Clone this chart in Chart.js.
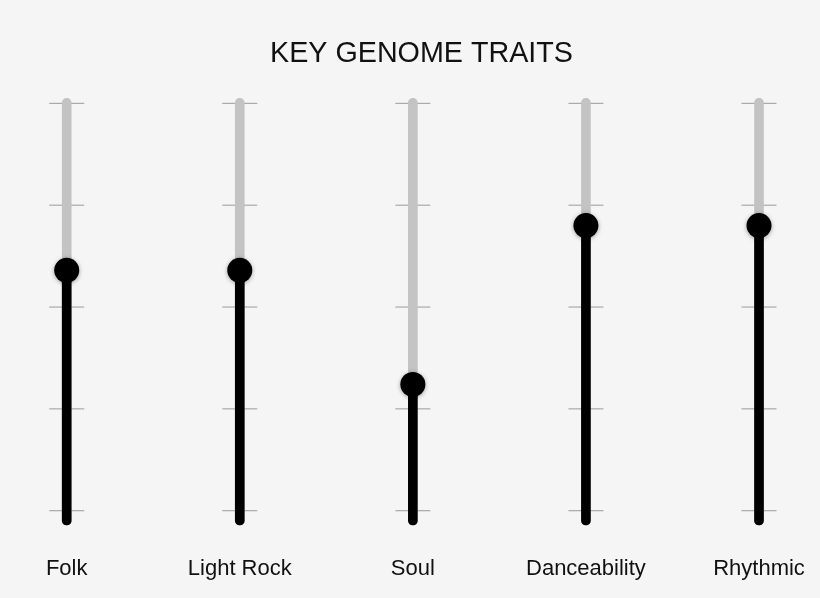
<!DOCTYPE html>
<html>
<head>
<meta charset="utf-8">
<title>Key Genome Traits</title>
<script src="https://cdn.jsdelivr.net/npm/chart.js@4.4.1/dist/chart.umd.min.js"></script>
<style>
  html, body { margin: 0; padding: 0; background: #f5f5f5; }
  #wrap { width: 820px; height: 598px; }
</style>
</head>
<body>
<div id="wrap"><canvas id="genomeChart"></canvas></div>
<script>
// chart data
const categories = ["Folk", "Light Rock", "Soul", "Danceability", "Rhythmic"];
const values = [5.9, 5.9, 3.1, 7.0, 7.0];
const tickLevels = [0, 2.5, 5, 7.5, 10];
const axisLabels = [0, 10];

// slider track runs a little past 0 and 10
const trackBottom = -0.35;
const trackTop = 10.12;

const font = "'Liberation Sans', Arial, sans-serif";

// soft shadow under the knobs
const knobShadow = {
  id: "knobShadow",
  beforeDatasetDraw(chart, args) {
    if (args.index !== 0) return;
    const ctx = chart.ctx;
    ctx.save();
    ctx.shadowColor = "rgba(0,0,0,0.35)";
    ctx.shadowBlur = 4;
    ctx.shadowOffsetY = 1;
  },
  afterDatasetDraw(chart, args) {
    if (args.index !== 0) return;
    chart.ctx.restore();
  }
};

const bgPlugin = {
  id: "bg",
  beforeDraw(chart) {
    const ctx = chart.ctx;
    ctx.save();
    ctx.fillStyle = "#f5f5f5";
    ctx.fillRect(0, 0, chart.width, chart.height);
    ctx.restore();
  }
};

new Chart(document.getElementById("genomeChart"), {
  type: "bar",
  data: {
    labels: categories,
    datasets: [
      {
        type: "line",
        label: "Value",
        data: values,
        showLine: false,
        pointRadius: 12.5,
        pointHoverRadius: 12.5,
        pointBackgroundColor: "#000",
        pointBorderWidth: 0,
        clip: false,
        order: 0
      },
      {
        label: "Level",
        data: values.map(v => [trackBottom, v]),
        backgroundColor: "#000",
        barThickness: 9,
        borderRadius: { bottomLeft: 4.5, bottomRight: 4.5 },
        borderSkipped: false,
        grouped: false,
        clip: false,
        order: 1
      },
      {
        label: "Track",
        data: categories.map(() => [trackBottom, trackTop]),
        backgroundColor: "#c3c3c3",
        barThickness: 9,
        borderRadius: 4.5,
        borderSkipped: false,
        grouped: false,
        clip: false,
        order: 2
      },
      {
        type: "line",
        label: "Ticks",
        data: categories.flatMap(c => tickLevels.map(v => ({ x: c, y: v }))),
        showLine: false,
        pointStyle: "line",
        pointRadius: 17.5,
        pointHoverRadius: 17.5,
        pointBorderColor: "#9a9a9a",
        pointBorderWidth: 1,
        clip: false,
        order: 3
      }
    ]
  },
  options: {
    responsive: true,
    maintainAspectRatio: false,
    animation: false,
    events: [],
    layout: { padding: { left: 44, right: 21, top: 0, bottom: 0 } },
    plugins: {
      legend: { display: false },
      tooltip: { enabled: false },
      title: {
        display: true,
        text: "KEY GENOME TRAITS",
        color: "#111",
        font: { family: font, size: 28.7, weight: "normal" },
        padding: { top: 37, bottom: 27 }
      }
    },
    scales: {
      x: {
        offset: false,
        grid: { display: false, drawTicks: false },
        border: { display: false },
        afterFit: axis => {
          axis.height = 73;
          axis.paddingLeft = 0;
          axis.paddingRight = 61;
        },
        ticks: {
          color: "#111",
          padding: 31,
          maxRotation: 0,
          font: { family: font, size: 22 }
        }
      },
      y: {
        min: trackBottom,
        max: trackTop,
        grid: { display: false, drawTicks: false },
        border: { display: false },
        afterBuildTicks: axis => { axis.ticks = axisLabels.map(v => ({ value: v })); },
        afterFit: axis => { axis.width = 22.7; },
        ticks: {
          color: "#ffffff",
          padding: 41,
          labelOffset: -4,
          font: { family: font, size: 14.5 }
        }
      }
    }
  },
  plugins: [bgPlugin, knobShadow]
});
</script>
</body>
</html>
